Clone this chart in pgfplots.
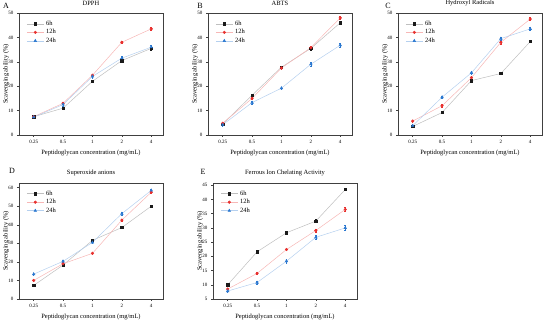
\documentclass[border=0pt]{standalone}
\usepackage{fontspec}
\setmainfont{Liberation Serif}
\usepackage{pgfplots}
\pgfplotsset{compat=1.18}
\definecolor{c6}{HTML}{1A1A1A}
\definecolor{c12}{HTML}{E8302E}
\definecolor{c24}{HTML}{2B78D0}
\pgfplotsset{
 panel/.style={scale only axis, width=144pt, height=122pt,
   xmin=-0.5, xmax=4.4, xtick={0,...,4}, xticklabels={0.25,0.5,1,2,4},
   tick align=outside, tick pos=left, major tick length=2pt,
   tick label style={font=\fontsize{5}{6}\selectfont},
   /pgf/number format/assume math mode=true,
   xlabel={Peptidoglycan concentration (mg/mL)},
   ylabel={Scavenging ability (\%)},
   xlabel style={yshift=1pt, font=\fontsize{6.5}{7}\selectfont},
   every axis y label/.style={at={(axis description cs:0,0.5)}, xshift=-13pt, rotate=90, anchor=center, inner sep=0pt, font=\fontsize{6.5}{7}\selectfont},
   title style={font=\fontsize{6.5}{7}\selectfont, inner sep=1pt},
   legend style={draw=none, fill=none, at={(0.03,0.97)}, anchor=north west,
     font=\fontsize{6.5}{7}\selectfont, row sep=-1.5pt},
   legend cell align=left,
   axis line style={black!75, line width=0.5pt},
   every tick/.style={black!75, line width=0.5pt}},
 s6/.style={color=black!25, line width=0.5pt, mark=square*, mark size=1.2pt,
   mark options={draw=c6, fill=c6},
   error bars/.cd, y dir=both, y explicit, error bar style={c6, line width=0.4pt}, error mark options={c6, rotate=90, mark size=0.8pt}},
 s12/.style={color=c12!35, line width=0.5pt, mark=*, mark size=1.3pt,
   mark options={draw=c12, fill=c12},
   error bars/.cd, y dir=both, y explicit, error bar style={c12, line width=0.4pt}, error mark options={c12, rotate=90, mark size=0.8pt}},
 s24/.style={color=c24!35, line width=0.5pt, mark=triangle*, mark size=1.5pt,
   mark options={draw=c24, fill=c24},
   error bars/.cd, y dir=both, y explicit, error bar style={c24, line width=0.4pt}, error mark options={c24, rotate=90, mark size=0.8pt}},
}
\begin{document}
\begin{tikzpicture}
\useasboundingbox (0,0) rectangle (550pt,321pt);
% Panel A
\node[font=\fontsize{8}{9}\selectfont] at (6pt,315pt) {A};
\begin{axis}[panel, at={(19pt,186pt)}, anchor=south west, ymin=0, ymax=50, ytick={0,10,...,50}, title={DPPH}]
\addplot[s6] table[y error=e, row sep=\\] {x y e\\ 0 7.5 0.4\\ 1 11.0 0.6\\ 2 22.0 0.5\\ 3 30.5 0.7\\ 4 35.5 0.6\\};
\addplot[s12] table[y error=e, row sep=\\] {x y e\\ 0 7.5 0.4\\ 1 13.0 0.5\\ 2 24.5 0.6\\ 3 38.0 0.5\\ 4 43.5 0.5\\};
\addplot[s24] table[y error=e, row sep=\\] {x y e\\ 0 7.3 0.5\\ 1 12.5 0.6\\ 2 24.0 0.6\\ 3 31.5 0.7\\ 4 36.0 0.6\\};
\legend{6h,12h,24h}
\end{axis}
% Panel B
\node[font=\fontsize{8}{9}\selectfont] at (200pt,315pt) {B};
\begin{axis}[panel, at={(208pt,186pt)}, anchor=south west, ymin=0, ymax=50, ytick={0,10,...,50}, title={ABTS}]
\addplot[s6] table[y error=e, row sep=\\] {x y e\\ 0 4.5 0.5\\ 1 16.3 0.5\\ 2 27.8 0.5\\ 3 35.5 0.6\\ 4 46.0 0.6\\};
\addplot[s12] table[y error=e, row sep=\\] {x y e\\ 0 4.8 0.5\\ 1 15.0 0.5\\ 2 27.5 0.6\\ 3 35.8 0.6\\ 4 48.0 0.6\\};
\addplot[s24] table[y error=e, row sep=\\] {x y e\\ 0 4.2 0.5\\ 1 13.3 0.5\\ 2 19.2 0.5\\ 3 29.0 0.7\\ 4 36.8 0.7\\};
\legend{6h,12h,24h}
\end{axis}
% Panel C
\node[font=\fontsize{8}{9}\selectfont] at (388pt,315pt) {C};
\begin{axis}[panel, at={(398pt,186pt)}, anchor=south west, ymin=0, ymax=50, ytick={0,10,...,50}, title={Hydroxyl Radicals}]
\addplot[s6] table[y error=e, row sep=\\] {x y e\\ 0 3.5 0.4\\ 1 9.2 0.4\\ 2 22.3 0.5\\ 3 25.2 0.4\\ 4 38.3 0.4\\};
\addplot[s12] table[y error=e, row sep=\\] {x y e\\ 0 5.7 0.5\\ 1 12.0 0.5\\ 2 23.5 0.5\\ 3 38.0 0.6\\ 4 47.5 0.6\\};
\addplot[s24] table[y error=e, row sep=\\] {x y e\\ 0 3.8 0.5\\ 1 15.5 0.5\\ 2 25.5 0.5\\ 3 39.5 0.6\\ 4 43.5 0.5\\};
\legend{6h,12h,24h}
\end{axis}
% Panel D
\node[font=\fontsize{8}{9}\selectfont] at (12pt,150pt) {D};
\begin{axis}[panel, height=116pt, at={(19pt,22pt)}, anchor=south west, ymin=0, ymax=62.5, ytick={0,10,...,60}, title={Superoxide anions}]
\addplot[s6] table[y error=e, row sep=\\] {x y e\\ 0 7.3 0.4\\ 1 18.3 0.6\\ 2 31.6 0.6\\ 3 38.5 0.5\\ 4 50.0 0.5\\};
\addplot[s12] table[y error=e, row sep=\\] {x y e\\ 0 10.0 0.5\\ 1 19.0 0.6\\ 2 24.6 0.5\\ 3 42.5 0.6\\ 4 57.5 0.6\\};
\addplot[s24] table[y error=e, row sep=\\] {x y e\\ 0 13.4 0.5\\ 1 20.3 0.6\\ 2 30.5 0.6\\ 3 46.0 0.6\\ 4 58.5 0.7\\};
\legend{6h,12h,24h}
\end{axis}
% Panel E
\node[font=\fontsize{8}{9}\selectfont] at (203pt,149pt) {E};
\begin{axis}[panel, height=116pt, at={(213pt,22pt)}, anchor=south west, ymin=5, ymax=45.8, ytick={5,10,...,45}, title={Ferrous Ion Chelating Activity}]
\addplot[s6] table[y error=e, row sep=\\] {x y e\\ 0 10.0 0.4\\ 1 21.6 0.4\\ 2 28.3 0.5\\ 3 32.4 0.5\\ 4 43.5 0.4\\};
\addplot[s12] table[y error=e, row sep=\\] {x y e\\ 0 8.5 0.4\\ 1 14.0 0.4\\ 2 22.4 0.4\\ 3 29.1 0.5\\ 4 36.5 0.7\\};
\addplot[s24] table[y error=e, row sep=\\] {x y e\\ 0 7.8 0.5\\ 1 10.8 0.5\\ 2 18.3 0.6\\ 3 26.7 0.6\\ 4 30.0 0.8\\};
\legend{6h,12h,24h}
\end{axis}
\end{tikzpicture}
\end{document}
